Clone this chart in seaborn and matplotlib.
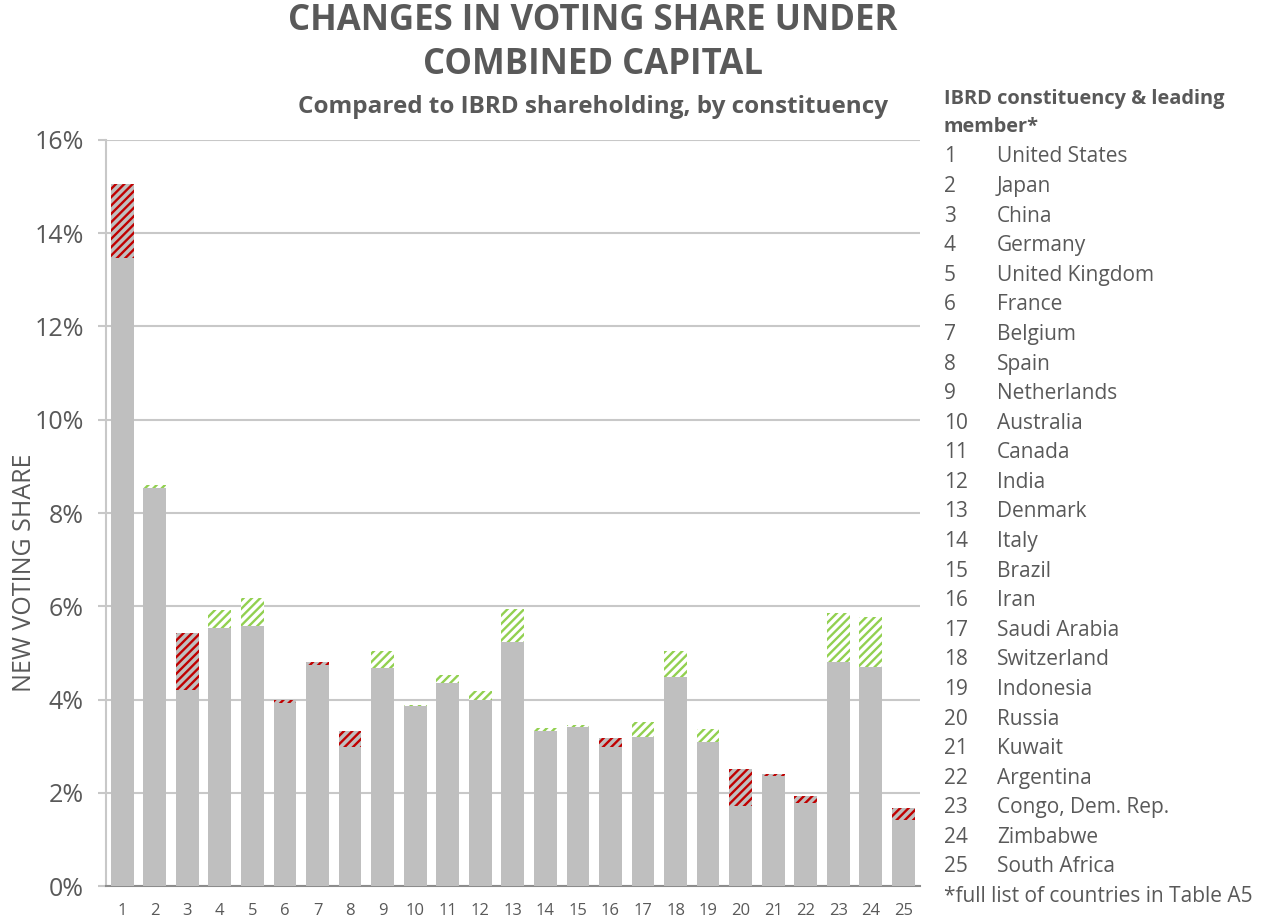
import numpy as np
import pandas as pd
import matplotlib
matplotlib.use("Agg")
import matplotlib.pyplot as plt
import seaborn as sns

# constituencies 1..25
constituency = [str(i) for i in range(1, 26)]
leading_member = ["United States", "Japan", "China", "Germany", "United Kingdom",
                  "France", "Belgium", "Spain", "Netherlands", "Australia",
                  "Canada", "India", "Denmark", "Italy", "Brazil", "Iran",
                  "Saudi Arabia", "Switzerland", "Indonesia", "Russia", "Kuwait",
                  "Argentina", "Congo, Dem. Rep.", "Zimbabwe", "South Africa"]

# lower part of each bar (gray) and top of the bar (end of hatched change), in %
base_share = [13.47, 8.54, 4.20, 5.54, 5.58, 3.93, 4.74, 2.98, 4.68, 3.87,
              4.36, 3.99, 5.24, 3.33, 3.41, 2.98, 3.20, 4.48, 3.09, 1.72,
              2.36, 1.78, 4.81, 4.70, 1.42]
top_share = [15.06, 8.60, 5.43, 5.92, 6.18, 4.00, 4.81, 3.33, 5.04, 3.89,
             4.53, 4.18, 5.94, 3.39, 3.45, 3.18, 3.52, 5.04, 3.37, 2.51,
             2.40, 1.93, 5.86, 5.77, 1.67]
# True = share goes down (red), False = goes up (green)
is_loss = [True, False, True, False, False, True, True, True, False, False,
           False, False, False, False, False, True, False, False, False, True,
           True, True, False, False, True]

df = pd.DataFrame({"Constituency": constituency, "Base": base_share,
                   "Top": top_share, "Loss": is_loss})

gray = "#bfbfbf"
red = "#c00000"
green = "#92d050"
txt = "#595959"

sns.set_style("white")
plt.rcParams["font.family"] = ["Open Sans", "DejaVu Sans"]
plt.rcParams["hatch.linewidth"] = 1.7

fig = plt.figure(figsize=(12.72, 9.24), dpi=100)
ax = fig.add_axes([0.0833, 0.0411, 0.6397, 0.8074])

# full bars first (hatched change part), then the gray part on top of it
sns.barplot(data=df, x="Constituency", y="Top", color=gray, width=0.7,
            saturation=1, ax=ax, zorder=2)
for patch, loss in zip(ax.patches, df["Loss"]):
    if loss:
        patch.set_facecolor(gray)
        patch.set_edgecolor(red)
    else:
        patch.set_facecolor("white")
        patch.set_edgecolor(green)
    patch.set_hatch("////")
    patch.set_linewidth(0)

sns.barplot(data=df, x="Constituency", y="Base", color=gray, width=0.7,
            saturation=1, ax=ax, zorder=3, linewidth=0)

ax.set_ylim(0, 16)
ax.set_xlim(-0.5, 24.5)
ax.set_yticks(range(0, 17, 2))
ax.set_yticklabels([f"{v}%" for v in range(0, 17, 2)])
ax.grid(axis="y", color="#c8c8c8", linewidth=1.5, zorder=0)
ax.set_axisbelow(True)
ax.set_xlabel("")
ax.set_ylabel("NEW VOTING SHARE", fontsize=18, color=txt)
ax.yaxis.set_label_coords(-0.085, 0.42)

ax.tick_params(axis="y", labelsize=18, labelcolor=txt, colors="#c8c8c8",
               length=6, width=1.5, left=True, pad=10)
ax.tick_params(axis="x", labelsize=12, labelcolor=txt, length=0, pad=12)
for lab in ax.get_yticklabels() + ax.get_xticklabels():
    lab.set_color(txt)

sns.despine(ax=ax, top=True, right=True)
ax.spines["left"].set_color("#c8c8c8")
ax.spines["left"].set_linewidth(1.5)
ax.spines["bottom"].set_color("#8c8c8c")
ax.spines["bottom"].set_linewidth(1.5)

# titles
fig.text(0.466, 1 - 21 / 924, "CHANGES IN VOTING SHARE UNDER", ha="center",
         va="center", fontsize=25, fontweight="bold", color=txt)
fig.text(0.466, 1 - 65 / 924, "COMBINED CAPITAL", ha="center",
         va="center", fontsize=25, fontweight="bold", color=txt)
fig.text(0.466, 1 - 107 / 924, "Compared to IBRD shareholding, by constituency",
         ha="center", va="center", fontsize=17.5, fontweight="bold", color=txt)

# list of constituencies on the right
x_num = 944 / 1272
x_name = 997 / 1272
fig.text(x_num, 1 - 99 / 924, "IBRD constituency & leading", ha="left",
         va="center", fontsize=14.4, fontweight="bold", color=txt)
fig.text(x_num, 1 - 127 / 924, "member*", ha="left", va="center",
         fontsize=14.4, fontweight="bold", color=txt)
for i, (num, name) in enumerate(zip(constituency, leading_member)):
    y = 1 - (157 + i * 29.58) / 924
    fig.text(x_num, y, num, ha="left", va="center", fontsize=15, color=txt)
    fig.text(x_name, y, name, ha="left", va="center", fontsize=15, color=txt)
fig.text(x_num, 1 - 896 / 924, "*full list of countries in Table A5", ha="left",
         va="center", fontsize=15, color=txt)

fig.savefig("out.png", dpi=100)
